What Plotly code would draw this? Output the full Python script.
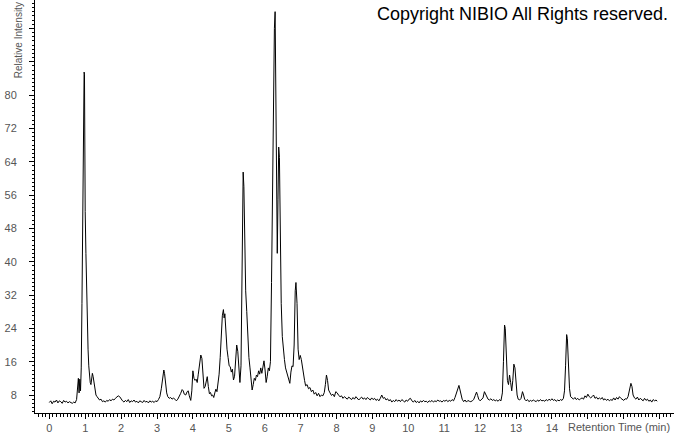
import plotly.graph_objects as go

# Retention time (min) and relative intensity
retention_time = [
    0.00, 0.04, 0.08, 0.12, 0.16, 0.20, 0.24, 0.28, 0.32, 0.36, 0.40, 0.44, 0.48, 0.52, 0.56, 0.60,
    0.64, 0.68, 0.72, 0.76, 0.79, 0.81, 0.83, 0.85, 0.87, 0.89, 0.91, 0.93, 0.95, 0.96, 0.97, 0.98,
    0.99, 1.00, 1.02, 1.04, 1.06, 1.08, 1.10, 1.12, 1.14, 1.16, 1.18, 1.20, 1.22, 1.24, 1.26, 1.28,
    1.30, 1.33, 1.36, 1.40, 1.44, 1.48, 1.52, 1.56, 1.60, 1.64, 1.68, 1.72, 1.76, 1.80, 1.84, 1.88,
    1.92, 1.96, 2.00, 2.04, 2.08, 2.12, 2.16, 2.20, 2.24, 2.28, 2.32, 2.36, 2.40, 2.44, 2.48, 2.52,
    2.56, 2.60, 2.64, 2.68, 2.72, 2.76, 2.80, 2.84, 2.88, 2.92, 2.96, 3.00, 3.04, 3.08, 3.12, 3.16,
    3.19, 3.21, 3.24, 3.27, 3.30, 3.34, 3.38, 3.42, 3.46, 3.50, 3.54, 3.58, 3.62, 3.66, 3.70, 3.73,
    3.76, 3.80, 3.84, 3.87, 3.90, 3.94, 3.97, 4.00, 4.03, 4.06, 4.09, 4.12, 4.15, 4.18, 4.22, 4.25,
    4.28, 4.31, 4.34, 4.37, 4.40, 4.43, 4.46, 4.49, 4.52, 4.55, 4.58, 4.61, 4.64, 4.67, 4.70, 4.73,
    4.76, 4.79, 4.82, 4.85, 4.87, 4.89, 4.92, 4.95, 4.98, 5.01, 5.04, 5.07, 5.10, 5.13, 5.16, 5.19,
    5.22, 5.25, 5.28, 5.31, 5.34, 5.37, 5.40, 5.42, 5.44, 5.47, 5.50, 5.53, 5.56, 5.59, 5.62, 5.65,
    5.68, 5.71, 5.74, 5.77, 5.80, 5.83, 5.86, 5.89, 5.92, 5.95, 5.98, 6.01, 6.04, 6.07, 6.10, 6.13,
    6.16, 6.19, 6.22, 6.25, 6.27, 6.29, 6.31, 6.33, 6.35, 6.37, 6.39, 6.41, 6.43, 6.46, 6.49, 6.52,
    6.55, 6.58, 6.61, 6.64, 6.67, 6.70, 6.73, 6.76, 6.79, 6.82, 6.85, 6.87, 6.90, 6.93, 6.96, 6.99,
    7.02, 7.05, 7.08, 7.11, 7.14, 7.18, 7.22, 7.26, 7.30, 7.34, 7.38, 7.42, 7.46, 7.50, 7.54, 7.58,
    7.62, 7.66, 7.69, 7.72, 7.75, 7.78, 7.82, 7.86, 7.90, 7.94, 7.98, 8.02, 8.06, 8.10, 8.14, 8.18,
    8.22, 8.26, 8.30, 8.34, 8.38, 8.42, 8.46, 8.50, 8.54, 8.58, 8.62, 8.66, 8.70, 8.74, 8.78, 8.82,
    8.86, 8.90, 8.94, 8.98, 9.02, 9.06, 9.10, 9.14, 9.18, 9.22, 9.26, 9.30, 9.34, 9.38, 9.42, 9.46,
    9.50, 9.54, 9.58, 9.62, 9.66, 9.70, 9.74, 9.78, 9.82, 9.86, 9.90, 9.94, 9.98, 10.02, 10.06, 10.10,
    10.14, 10.18, 10.22, 10.26, 10.30, 10.34, 10.38, 10.42, 10.46, 10.50, 10.54, 10.58, 10.62, 10.66,
    10.70, 10.74, 10.78, 10.82, 10.86, 10.90, 10.94, 10.98, 11.02, 11.06, 11.10, 11.14, 11.18, 11.22,
    11.26, 11.30, 11.34, 11.38, 11.41, 11.44, 11.47, 11.50, 11.54, 11.58, 11.62, 11.66, 11.70, 11.74,
    11.78, 11.82, 11.86, 11.90, 11.93, 11.96, 12.00, 12.04, 12.08, 12.12, 12.15, 12.18, 12.22, 12.26,
    12.30, 12.34, 12.38, 12.42, 12.46, 12.50, 12.54, 12.58, 12.62, 12.65, 12.68, 12.70, 12.73, 12.76,
    12.79, 12.82, 12.85, 12.88, 12.91, 12.94, 12.97, 13.00, 13.03, 13.06, 13.10, 13.14, 13.18, 13.21,
    13.24, 13.28, 13.32, 13.36, 13.40, 13.44, 13.48, 13.52, 13.56, 13.60, 13.64, 13.68, 13.72, 13.76,
    13.80, 13.84, 13.88, 13.92, 13.96, 14.00, 14.04, 14.08, 14.12, 14.16, 14.20, 14.24, 14.28, 14.32,
    14.35, 14.38, 14.41, 14.43, 14.46, 14.49, 14.52, 14.56, 14.60, 14.64, 14.68, 14.72, 14.76, 14.80,
    14.84, 14.88, 14.92, 14.96, 15.00, 15.04, 15.08, 15.12, 15.16, 15.20, 15.24, 15.28, 15.32, 15.36,
    15.40, 15.44, 15.48, 15.52, 15.56, 15.60, 15.64, 15.68, 15.72, 15.76, 15.80, 15.84, 15.88, 15.92,
    15.96, 16.00, 16.04, 16.08, 16.12, 16.16, 16.20, 16.23, 16.26, 16.30, 16.34, 16.38, 16.42, 16.46,
    16.50, 16.54, 16.58, 16.62, 16.66, 16.70, 16.74, 16.78, 16.82, 16.86, 16.90, 16.93,
]

relative_intensity = [
    6.2, 6.6, 5.9, 6.5, 6.3, 6.8, 6.1, 6.6, 6.4, 6.0, 6.7, 6.3, 6.5, 6.1, 6.4, 6.2,
    6.0, 6.3, 6.1, 6.9, 9.5, 12.0, 8.5, 11.8, 9.0, 14.5, 30.0, 55.0, 79.5, 80.0, 85.5, 85.0,
    62.0, 52.0, 42.0, 32.0, 24.0, 19.0, 15.0, 12.5, 11.0, 10.5, 12.0, 13.2, 12.5, 11.0, 9.5, 8.8,
    8.0, 7.6, 7.2, 6.8, 7.0, 6.4, 6.6, 6.3, 6.7, 6.5, 6.9, 6.6, 7.0, 6.8, 7.2, 7.5,
    7.8, 7.6, 7.0, 6.6, 6.3, 6.7, 6.4, 6.9, 6.2, 6.6, 6.4, 6.8, 6.3, 6.5, 6.1, 6.6,
    6.4, 6.2, 6.7, 6.3, 6.5, 6.1, 6.6, 6.3, 6.5, 6.2, 6.6, 6.4, 6.9, 7.6, 9.5, 12.5,
    14.0, 13.2, 10.5, 8.5, 7.6, 7.2, 7.4, 7.0, 7.3, 6.8, 6.6, 7.0, 7.6, 8.4, 9.3, 9.0,
    8.2, 8.0, 8.8, 9.0, 7.8, 6.7, 9.0, 13.8, 12.0, 11.5, 11.8, 11.0, 13.0, 15.5, 17.6, 16.8,
    12.5, 9.6, 10.0, 11.5, 12.4, 10.0, 8.3, 8.6, 7.8, 8.0, 7.4, 8.5, 9.4, 8.8, 10.5, 13.0,
    17.0, 23.0, 27.0, 28.5, 26.5, 27.5, 22.0, 19.0, 17.0, 15.0, 14.8, 13.5, 14.2, 11.6, 12.5, 17.0,
    20.0, 18.5, 14.0, 11.0, 15.0, 35.0, 61.5, 58.0, 45.0, 33.0, 28.0, 22.0, 17.0, 14.5, 11.5, 9.2,
    10.5, 12.0, 11.5, 12.8, 12.4, 13.8, 13.0, 14.5, 13.2, 15.0, 16.2, 14.0, 11.0, 12.5, 14.5, 13.8,
    16.0, 35.0, 63.0, 80.0, 96.0, 100.0, 78.0, 52.0, 42.0, 55.0, 67.5, 65.0, 45.0, 30.0, 22.0, 18.5,
    16.5, 14.5, 13.5, 13.0, 11.5, 10.8, 13.5, 15.0, 14.8, 20.0, 33.0, 35.0, 30.0, 19.0, 16.5, 17.5,
    16.5, 14.5, 13.0, 11.5, 10.2, 10.5, 9.5, 9.8, 8.8, 9.2, 8.2, 8.6, 7.8, 8.4, 7.6, 8.0,
    7.8, 8.6, 10.5, 12.8, 11.5, 9.2, 8.5, 7.9, 8.2, 7.6, 8.8, 8.5, 7.9, 7.6, 7.8, 7.2,
    7.6, 7.4, 7.0, 7.5, 7.2, 6.9, 7.4, 7.0, 7.6, 7.3, 6.8, 7.2, 7.5, 7.0, 7.3, 6.9,
    7.4, 7.1, 6.8, 7.3, 6.9, 7.2, 6.7, 7.0, 6.6, 7.2, 8.0, 7.2, 7.4, 6.8, 7.1, 6.6,
    6.9, 6.3, 6.7, 6.4, 6.9, 6.5, 6.8, 6.4, 6.9, 6.6, 6.3, 6.8, 6.5, 7.0, 7.2, 6.6,
    6.3, 6.7, 6.2, 6.5, 6.1, 6.6, 6.3, 6.7, 6.4, 6.5, 6.2, 6.6, 6.4, 6.7,
    6.3, 6.6, 6.4, 6.8, 6.5, 6.6, 6.3, 6.7, 6.5, 6.8, 6.4, 6.7, 6.5, 6.9,
    6.6, 7.4, 8.5, 9.5, 10.3, 9.2, 7.8, 7.0, 6.4, 6.8, 6.3, 6.7, 6.5, 6.4,
    6.6, 6.9, 7.8, 8.7, 7.9, 7.0, 6.6, 6.9, 7.3, 8.8, 8.2, 7.4, 7.0, 6.8,
    7.1, 6.7, 6.9, 6.6, 6.8, 6.5, 6.9, 6.6, 8.5, 16.0, 24.8, 24.0, 17.0, 11.5,
    10.5, 12.8, 11.0, 9.0, 11.5, 15.4, 14.5, 10.5, 8.0, 7.0, 6.8, 7.2, 8.8, 8.0,
    7.0, 6.6, 6.9, 6.4, 6.7, 6.5, 6.8, 6.6, 6.4, 6.8, 6.5, 6.9, 6.6, 6.7,
    6.5, 6.9, 6.6, 7.0, 6.7, 7.1, 6.7, 6.9, 6.5, 6.8, 6.6, 6.9, 6.7, 7.2,
    9.0, 15.0, 22.5, 21.5, 14.0, 9.5, 7.6, 7.2, 7.0, 7.4, 6.9, 7.2, 6.8, 7.1,
    7.3, 7.0, 7.8, 7.4, 8.2, 7.6, 7.3, 7.6, 8.0, 7.2, 7.5, 7.0, 7.3, 7.0,
    7.4, 6.8, 7.1, 6.7, 7.0, 6.6, 6.9, 6.7, 7.3, 6.8, 7.4, 7.0, 7.6, 7.2,
    7.0, 6.7, 7.1, 7.0, 7.6, 9.0, 10.8, 10.0, 8.0, 7.3, 7.0, 7.5, 6.8, 7.2,
    6.9, 6.6, 7.2, 6.7, 7.0, 6.5, 6.8, 6.3, 6.9, 6.6, 6.8, 6.5,
]

x_tick_values = list(range(0, 18))
x_tick_labels = [str(v) for v in range(0, 15)] + ["", "", ""]
y_tick_values = [8, 16, 24, 32, 40, 48, 56, 64, 72, 80, 88, 96]
y_tick_labels = ["8", "16", "24", "32", "40", "48", "56", "64", "72", "80", "", ""]
y_mid_tick_values = [4, 12, 20, 28, 36, 44, 52, 60, 68, 76, 84, 92, 100]

X_RANGE = [-0.398, 17.4]
Y_RANGE = [3.68, 102.8]
LABEL_FONT = dict(family="Liberation Sans, Arial, sans-serif", size=11, color="#555555")

fig = go.Figure()
fig.add_trace(go.Scatter(
    x=retention_time, y=relative_intensity, mode="lines",
    line=dict(color="black", width=1), showlegend=False, hoverinfo="skip",
))

fig.update_layout(
    width=674, height=434,
    margin=dict(l=35, r=0, t=0, b=21, autoexpand=False),
    paper_bgcolor="white", plot_bgcolor="white",
    xaxis=dict(
        range=X_RANGE, tickmode="array", tickvals=x_tick_values, ticktext=x_tick_labels,
        ticks="outside", ticklen=5, tickwidth=1, tickcolor="black",
        showline=True, linecolor="black", linewidth=1, showgrid=False, zeroline=False,
        tickfont=LABEL_FONT, ticklabelstandoff=0, automargin=False,
        minor=dict(tickmode="linear", tick0=0, dtick=0.1, ticks="outside", ticklen=3,
                   tickcolor="black", tickwidth=1, showgrid=False),
    ),
    yaxis=dict(
        range=Y_RANGE, tickmode="array", tickvals=y_tick_values, ticktext=y_tick_labels,
        ticks="outside", ticklen=5, tickwidth=1, tickcolor="black",
        showline=True, linecolor="black", linewidth=1, showgrid=False, zeroline=False,
        tickfont=LABEL_FONT, ticklabelstandoff=10, automargin=False,
        minor=dict(tickmode="linear", tick0=0, dtick=1, ticks="outside", ticklen=2,
                   tickcolor="black", tickwidth=1, showgrid=False),
    ),
    yaxis2=dict(
        range=Y_RANGE, overlaying="y", side="left", anchor="x",
        tickmode="array", tickvals=y_mid_tick_values, ticks="outside", ticklen=4,
        tickcolor="black", tickwidth=1, showticklabels=False, showline=False,
        showgrid=False, zeroline=False,
    ),
)

fig.add_annotation(
    text="Copyright NIBIO All Rights reserved.", xref="paper", yref="paper",
    x=0.992, y=0.966, xanchor="right", yanchor="middle", showarrow=False,
    font=dict(family="Liberation Sans, Arial, sans-serif", size=18, color="black"),
    borderpad=0,
)
fig.add_annotation(
    text="Retention Time (min)", xref="paper", yref="paper",
    x=0.997, y=-0.034, xanchor="right", yanchor="middle", showarrow=False,
    font=LABEL_FONT,
)
fig.add_annotation(
    text="Relative Intensity", xref="paper", yref="paper", textangle=-90,
    x=-0.026, y=0.809, xanchor="center", yanchor="bottom", showarrow=False,
    font=dict(family="Liberation Sans, Arial, sans-serif", size=10, color="#555555"),
    borderpad=0,
)

# Remove the browser's default 8px body margin so the figure sits at the window origin.
fig.write_html(
    "out.html",
    config={"displayModeBar": False, "staticPlot": True},
    post_script="document.body.style.margin='0px';",
)
